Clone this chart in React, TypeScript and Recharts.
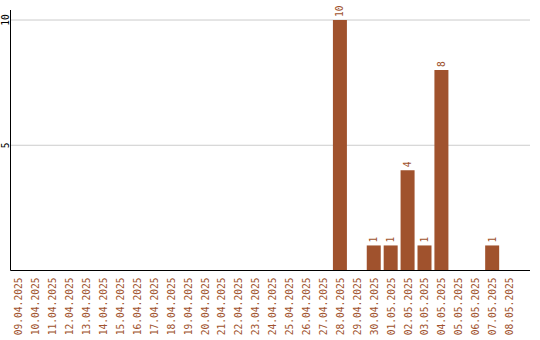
import { BarChart, Bar, XAxis, YAxis, CartesianGrid, LabelList } from "recharts";

const days = [
  "09.04.2025", "10.04.2025", "11.04.2025", "12.04.2025", "13.04.2025",
  "14.04.2025", "15.04.2025", "16.04.2025", "17.04.2025", "18.04.2025",
  "19.04.2025", "20.04.2025", "21.04.2025", "22.04.2025", "23.04.2025",
  "24.04.2025", "25.04.2025", "26.04.2025", "27.04.2025", "28.04.2025",
  "29.04.2025", "30.04.2025", "01.05.2025", "02.05.2025", "03.05.2025",
  "04.05.2025", "05.05.2025", "06.05.2025", "07.05.2025", "08.05.2025",
];

const counts = [
  0, 0, 0, 0, 0, 0, 0, 0, 0, 0,
  0, 0, 0, 0, 0, 0, 0, 0, 0, 10,
  0, 1, 1, 4, 1, 8, 0, 0, 1, 0,
];

const yTicks = [5, 10];

const data = days.map((day, i) => ({ day, count: counts[i] }));

const BROWN = "#a0522d";
const MONO = "'DejaVu Sans Mono', monospace";

function DayTick({ x, y, payload }: any) {
  return (
    <g transform={`translate(${x},${y - 1})`}>
      <text
        transform="rotate(-90)"
        textAnchor="end"
        dy={3.5}
        fill={BROWN}
        fontSize={9.6}
        fontFamily={MONO}
      >
        {payload.value}
      </text>
    </g>
  );
}

function CountTick({ y, payload }: any) {
  return (
    <g transform={`translate(5,${y})`}>
      <text
        transform="rotate(-90)"
        textAnchor="middle"
        dy={3.5}
        fill="#000"
        fontSize={9.6}
        fontFamily={MONO}
      >
        {payload.value}
      </text>
    </g>
  );
}

function ValueLabel({ x, y, width, value }: any) {
  if (!value) return null;
  const cx = x + width / 2;
  return (
    <g transform={`translate(${cx},${y - 3})`}>
      <text
        transform="rotate(-90)"
        textAnchor="start"
        dy={3.5}
        fill={BROWN}
        fontSize={9.6}
        fontFamily={MONO}
      >
        {value}
      </text>
    </g>
  );
}

export default function App() {
  return (
    <div style={{ position: "absolute", left: 0, top: 0, background: "#fff" }}>
      <BarChart
        width={540}
        height={340}
        data={data}
        margin={{ top: 10, right: 10, bottom: 0, left: 0 }}
        barSize={14}
      >
        <CartesianGrid vertical={false} stroke="#cccccc" horizontalValues={yTicks} />
        <XAxis
          dataKey="day"
          interval={0}
          height={69.5}
          tick={<DayTick />}
          tickLine={false}
          axisLine={{ stroke: "#000", strokeWidth: 1 }}
          padding={{ left: 0, right: 12 }}
        />
        <YAxis
          width={10.5}
          domain={[0, 10.4]}
          ticks={yTicks}
          tick={<CountTick />}
          tickLine={false}
          axisLine={{ stroke: "#000", strokeWidth: 1 }}
        />
        <Bar dataKey="count" fill={BROWN} isAnimationActive={false}>
          <LabelList dataKey="count" content={<ValueLabel />} />
        </Bar>
      </BarChart>
    </div>
  );
}
